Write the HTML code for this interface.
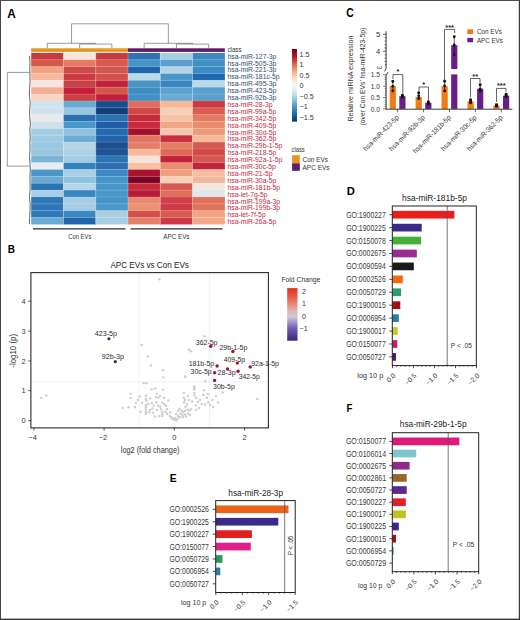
<!DOCTYPE html>
<html><head><meta charset="utf-8"><style>
html,body{margin:0;padding:0;background:#fff;width:520px;height:620px;overflow:hidden}
svg{display:block;color:#333}
text{font-family:"Liberation Sans",sans-serif}
</style></head><body>
<svg width="520" height="620" viewBox="0 0 520 620">
<rect width="520" height="620" fill="#fff"/>
<text x="7.20" y="17.90" font-size="12.5" fill="#000" color="#000" textLength="8.5" lengthAdjust="spacingAndGlyphs" font-weight="bold">A</text>
<text x="7.80" y="253.40" font-size="11.67" fill="#000" color="#000" textLength="7.2" lengthAdjust="spacingAndGlyphs" font-weight="bold">B</text>
<text x="346.30" y="17.30" font-size="11.94" fill="#000" color="#000" textLength="7.5" lengthAdjust="spacingAndGlyphs" font-weight="bold">C</text>
<text x="346.80" y="194.70" font-size="11.39" fill="#000" color="#000" textLength="8.1" lengthAdjust="spacingAndGlyphs" font-weight="bold">D</text>
<text x="169.80" y="481.60" font-size="11.39" fill="#000" color="#000" textLength="6.9" lengthAdjust="spacingAndGlyphs" font-weight="bold">E</text>
<text x="346.60" y="412.00" font-size="11.11" fill="#000" color="#000" textLength="5.9" lengthAdjust="spacingAndGlyphs" font-weight="bold">F</text>
<rect x="31.20" y="52.90" width="32.32" height="6.91" fill="#c83a3e"/>
<rect x="63.47" y="52.90" width="32.32" height="6.91" fill="#f6e3d9"/>
<rect x="95.74" y="52.90" width="32.32" height="6.91" fill="#c93a3c"/>
<rect x="128.01" y="52.90" width="32.32" height="6.91" fill="#2e72b5"/>
<rect x="160.28" y="52.90" width="32.32" height="6.91" fill="#a5cee3"/>
<rect x="192.55" y="52.90" width="32.32" height="6.91" fill="#3d88c0"/>
<rect x="31.20" y="59.76" width="32.32" height="6.91" fill="#d5574d"/>
<rect x="63.47" y="59.76" width="32.32" height="6.91" fill="#e47b65"/>
<rect x="95.74" y="59.76" width="32.32" height="6.91" fill="#d65a4e"/>
<rect x="128.01" y="59.76" width="32.32" height="6.91" fill="#4594c8"/>
<rect x="160.28" y="59.76" width="32.32" height="6.91" fill="#5a9fcd"/>
<rect x="192.55" y="59.76" width="32.32" height="6.91" fill="#4190c5"/>
<rect x="31.20" y="66.62" width="32.32" height="6.91" fill="#f1a283"/>
<rect x="63.47" y="66.62" width="32.32" height="6.91" fill="#d04848"/>
<rect x="95.74" y="66.62" width="32.32" height="6.91" fill="#d45650"/>
<rect x="128.01" y="66.62" width="32.32" height="6.91" fill="#1f65aa"/>
<rect x="160.28" y="66.62" width="32.32" height="6.91" fill="#b2d5e7"/>
<rect x="192.55" y="66.62" width="32.32" height="6.91" fill="#3d8bc2"/>
<rect x="31.20" y="73.48" width="32.32" height="6.91" fill="#f7b99d"/>
<rect x="63.47" y="73.48" width="32.32" height="6.91" fill="#cb3c42"/>
<rect x="95.74" y="73.48" width="32.32" height="6.91" fill="#d3504c"/>
<rect x="128.01" y="73.48" width="32.32" height="6.91" fill="#b9d8e8"/>
<rect x="160.28" y="73.48" width="32.32" height="6.91" fill="#4b96c9"/>
<rect x="192.55" y="73.48" width="32.32" height="6.91" fill="#1f69ad"/>
<rect x="31.20" y="80.34" width="32.32" height="6.91" fill="#f3e5df"/>
<rect x="63.47" y="80.34" width="32.32" height="6.91" fill="#c94143"/>
<rect x="95.74" y="80.34" width="32.32" height="6.91" fill="#c3213a"/>
<rect x="128.01" y="80.34" width="32.32" height="6.91" fill="#4593c7"/>
<rect x="160.28" y="80.34" width="32.32" height="6.91" fill="#3a85bf"/>
<rect x="192.55" y="80.34" width="32.32" height="6.91" fill="#b9d8e8"/>
<rect x="31.20" y="87.20" width="32.32" height="6.91" fill="#f5ae92"/>
<rect x="63.47" y="87.20" width="32.32" height="6.91" fill="#c41e3a"/>
<rect x="95.74" y="87.20" width="32.32" height="6.91" fill="#d5544c"/>
<rect x="128.01" y="87.20" width="32.32" height="6.91" fill="#3f8cc3"/>
<rect x="160.28" y="87.20" width="32.32" height="6.91" fill="#5ea2ce"/>
<rect x="192.55" y="87.20" width="32.32" height="6.91" fill="#5aa0cd"/>
<rect x="31.20" y="94.06" width="32.32" height="6.91" fill="#f8d4c4"/>
<rect x="63.47" y="94.06" width="32.32" height="6.91" fill="#cd3f42"/>
<rect x="95.74" y="94.06" width="32.32" height="6.91" fill="#c1203a"/>
<rect x="128.01" y="94.06" width="32.32" height="6.91" fill="#4291c6"/>
<rect x="160.28" y="94.06" width="32.32" height="6.91" fill="#6aaad2"/>
<rect x="192.55" y="94.06" width="32.32" height="6.91" fill="#5a9fcd"/>
<rect x="31.20" y="100.92" width="32.32" height="6.91" fill="#cfe3ee"/>
<rect x="63.47" y="100.92" width="32.32" height="6.91" fill="#6aa9d2"/>
<rect x="95.74" y="100.92" width="32.32" height="6.91" fill="#1a4f8e"/>
<rect x="128.01" y="100.92" width="32.32" height="6.91" fill="#e06e5a"/>
<rect x="160.28" y="100.92" width="32.32" height="6.91" fill="#f6b896"/>
<rect x="192.55" y="100.92" width="32.32" height="6.91" fill="#cb3a40"/>
<rect x="31.20" y="107.78" width="32.32" height="6.91" fill="#cde2ed"/>
<rect x="63.47" y="107.78" width="32.32" height="6.91" fill="#9ac6e0"/>
<rect x="95.74" y="107.78" width="32.32" height="6.91" fill="#123e7a"/>
<rect x="128.01" y="107.78" width="32.32" height="6.91" fill="#cf4746"/>
<rect x="160.28" y="107.78" width="32.32" height="6.91" fill="#f9cdb6"/>
<rect x="192.55" y="107.78" width="32.32" height="6.91" fill="#d95d50"/>
<rect x="31.20" y="114.64" width="32.32" height="6.91" fill="#e9e9ec"/>
<rect x="63.47" y="114.64" width="32.32" height="6.91" fill="#2a70b2"/>
<rect x="95.74" y="114.64" width="32.32" height="6.91" fill="#2a71b3"/>
<rect x="128.01" y="114.64" width="32.32" height="6.91" fill="#c72a3c"/>
<rect x="160.28" y="114.64" width="32.32" height="6.91" fill="#f7c2a6"/>
<rect x="192.55" y="114.64" width="32.32" height="6.91" fill="#e47a63"/>
<rect x="31.20" y="121.50" width="32.32" height="6.91" fill="#cde2ed"/>
<rect x="63.47" y="121.50" width="32.32" height="6.91" fill="#4898c9"/>
<rect x="95.74" y="121.50" width="32.32" height="6.91" fill="#1d5ea5"/>
<rect x="128.01" y="121.50" width="32.32" height="6.91" fill="#c72b3d"/>
<rect x="160.28" y="121.50" width="32.32" height="6.91" fill="#f2a786"/>
<rect x="192.55" y="121.50" width="32.32" height="6.91" fill="#ea8b6f"/>
<rect x="31.20" y="128.36" width="32.32" height="6.91" fill="#a4cde2"/>
<rect x="63.47" y="128.36" width="32.32" height="6.91" fill="#8fc2de"/>
<rect x="95.74" y="128.36" width="32.32" height="6.91" fill="#2369ad"/>
<rect x="128.01" y="128.36" width="32.32" height="6.91" fill="#a50f2c"/>
<rect x="160.28" y="128.36" width="32.32" height="6.91" fill="#f9c6ab"/>
<rect x="192.55" y="128.36" width="32.32" height="6.91" fill="#ee9a7b"/>
<rect x="31.20" y="135.22" width="32.32" height="6.91" fill="#9fcbe1"/>
<rect x="63.47" y="135.22" width="32.32" height="6.91" fill="#6cacd3"/>
<rect x="95.74" y="135.22" width="32.32" height="6.91" fill="#1f64a9"/>
<rect x="128.01" y="135.22" width="32.32" height="6.91" fill="#e17560"/>
<rect x="160.28" y="135.22" width="32.32" height="6.91" fill="#c9303f"/>
<rect x="192.55" y="135.22" width="32.32" height="6.91" fill="#f6b99a"/>
<rect x="31.20" y="142.08" width="32.32" height="6.91" fill="#9ac8e0"/>
<rect x="63.47" y="142.08" width="32.32" height="6.91" fill="#b3d5e7"/>
<rect x="95.74" y="142.08" width="32.32" height="6.91" fill="#1b4f8f"/>
<rect x="128.01" y="142.08" width="32.32" height="6.91" fill="#e57e67"/>
<rect x="160.28" y="142.08" width="32.32" height="6.91" fill="#e57e66"/>
<rect x="192.55" y="142.08" width="32.32" height="6.91" fill="#d45a50"/>
<rect x="31.20" y="148.94" width="32.32" height="6.91" fill="#9ac7e0"/>
<rect x="63.47" y="148.94" width="32.32" height="6.91" fill="#acd1e5"/>
<rect x="95.74" y="148.94" width="32.32" height="6.91" fill="#1d5496"/>
<rect x="128.01" y="148.94" width="32.32" height="6.91" fill="#f7b999"/>
<rect x="160.28" y="148.94" width="32.32" height="6.91" fill="#de6a57"/>
<rect x="192.55" y="148.94" width="32.32" height="6.91" fill="#d24a48"/>
<rect x="31.20" y="155.80" width="32.32" height="6.91" fill="#7ab5d7"/>
<rect x="63.47" y="155.80" width="32.32" height="6.91" fill="#a4cde3"/>
<rect x="95.74" y="155.80" width="32.32" height="6.91" fill="#2c74b4"/>
<rect x="128.01" y="155.80" width="32.32" height="6.91" fill="#f6e4dc"/>
<rect x="160.28" y="155.80" width="32.32" height="6.91" fill="#c4213a"/>
<rect x="192.55" y="155.80" width="32.32" height="6.91" fill="#d65650"/>
<rect x="31.20" y="162.66" width="32.32" height="6.91" fill="#e8ebef"/>
<rect x="63.47" y="162.66" width="32.32" height="6.91" fill="#3181bd"/>
<rect x="95.74" y="162.66" width="32.32" height="6.91" fill="#2b6fb2"/>
<rect x="128.01" y="162.66" width="32.32" height="6.91" fill="#f8c1a5"/>
<rect x="160.28" y="162.66" width="32.32" height="6.91" fill="#ea8d70"/>
<rect x="192.55" y="162.66" width="32.32" height="6.91" fill="#c4223b"/>
<rect x="31.20" y="169.52" width="32.32" height="6.91" fill="#4a96c8"/>
<rect x="63.47" y="169.52" width="32.32" height="6.91" fill="#a8cfe4"/>
<rect x="95.74" y="169.52" width="32.32" height="6.91" fill="#3f88c1"/>
<rect x="128.01" y="169.52" width="32.32" height="6.91" fill="#a8122e"/>
<rect x="160.28" y="169.52" width="32.32" height="6.91" fill="#f0a080"/>
<rect x="192.55" y="169.52" width="32.32" height="6.91" fill="#f7bea1"/>
<rect x="31.20" y="176.38" width="32.32" height="6.91" fill="#6aaad2"/>
<rect x="63.47" y="176.38" width="32.32" height="6.91" fill="#8fc2de"/>
<rect x="95.74" y="176.38" width="32.32" height="6.91" fill="#4594c8"/>
<rect x="128.01" y="176.38" width="32.32" height="6.91" fill="#7d0324"/>
<rect x="160.28" y="176.38" width="32.32" height="6.91" fill="#f8cfb9"/>
<rect x="192.55" y="176.38" width="32.32" height="6.91" fill="#f4b698"/>
<rect x="31.20" y="183.24" width="32.32" height="6.91" fill="#2b73b4"/>
<rect x="63.47" y="183.24" width="32.32" height="6.91" fill="#b3d6e8"/>
<rect x="95.74" y="183.24" width="32.32" height="6.91" fill="#4796c9"/>
<rect x="128.01" y="183.24" width="32.32" height="6.91" fill="#c72a3c"/>
<rect x="160.28" y="183.24" width="32.32" height="6.91" fill="#d65a4f"/>
<rect x="192.55" y="183.24" width="32.32" height="6.91" fill="#f3e6e0"/>
<rect x="31.20" y="190.10" width="32.32" height="6.91" fill="#a7cee3"/>
<rect x="63.47" y="190.10" width="32.32" height="6.91" fill="#3a86c0"/>
<rect x="95.74" y="190.10" width="32.32" height="6.91" fill="#4a98ca"/>
<rect x="128.01" y="190.10" width="32.32" height="6.91" fill="#b9193a"/>
<rect x="160.28" y="190.10" width="32.32" height="6.91" fill="#e0705c"/>
<rect x="192.55" y="190.10" width="32.32" height="6.91" fill="#dfe6ec"/>
<rect x="31.20" y="196.96" width="32.32" height="6.91" fill="#2e77b7"/>
<rect x="63.47" y="196.96" width="32.32" height="6.91" fill="#a6cde3"/>
<rect x="95.74" y="196.96" width="32.32" height="6.91" fill="#4595c8"/>
<rect x="128.01" y="196.96" width="32.32" height="6.91" fill="#e9896d"/>
<rect x="160.28" y="196.96" width="32.32" height="6.91" fill="#d0404a"/>
<rect x="192.55" y="196.96" width="32.32" height="6.91" fill="#e0705c"/>
<rect x="31.20" y="203.82" width="32.32" height="6.91" fill="#2e77b7"/>
<rect x="63.47" y="203.82" width="32.32" height="6.91" fill="#a6cde3"/>
<rect x="95.74" y="203.82" width="32.32" height="6.91" fill="#4a97c9"/>
<rect x="128.01" y="203.82" width="32.32" height="6.91" fill="#ec9272"/>
<rect x="160.28" y="203.82" width="32.32" height="6.91" fill="#cd3a44"/>
<rect x="192.55" y="203.82" width="32.32" height="6.91" fill="#e0735e"/>
<rect x="31.20" y="210.68" width="32.32" height="6.91" fill="#2f79b8"/>
<rect x="63.47" y="210.68" width="32.32" height="6.91" fill="#3c88c1"/>
<rect x="95.74" y="210.68" width="32.32" height="6.91" fill="#aacfe4"/>
<rect x="128.01" y="210.68" width="32.32" height="6.91" fill="#d34f4b"/>
<rect x="160.28" y="210.68" width="32.32" height="6.91" fill="#d85a52"/>
<rect x="192.55" y="210.68" width="32.32" height="6.91" fill="#f0a485"/>
<rect x="31.20" y="217.54" width="32.32" height="6.91" fill="#6aabd3"/>
<rect x="63.47" y="217.54" width="32.32" height="6.91" fill="#2166ac"/>
<rect x="95.74" y="217.54" width="32.32" height="6.91" fill="#a8cee4"/>
<rect x="128.01" y="217.54" width="32.32" height="6.91" fill="#e4806a"/>
<rect x="160.28" y="217.54" width="32.32" height="6.91" fill="#cc3843"/>
<rect x="192.55" y="217.54" width="32.32" height="6.91" fill="#f2a889"/>
<line x1="63.47" y1="52.90" x2="63.47" y2="224.40" stroke="rgba(255,255,255,0.45)" stroke-width="0.6"/>
<line x1="95.74" y1="52.90" x2="95.74" y2="224.40" stroke="rgba(255,255,255,0.45)" stroke-width="0.6"/>
<line x1="128.01" y1="52.90" x2="128.01" y2="224.40" stroke="rgba(255,255,255,0.45)" stroke-width="0.6"/>
<line x1="160.28" y1="52.90" x2="160.28" y2="224.40" stroke="rgba(255,255,255,0.45)" stroke-width="0.6"/>
<line x1="192.55" y1="52.90" x2="192.55" y2="224.40" stroke="rgba(255,255,255,0.45)" stroke-width="0.6"/>
<line x1="31.20" y1="59.76" x2="224.82" y2="59.76" stroke="rgba(255,255,255,0.25)" stroke-width="0.5"/>
<line x1="31.20" y1="66.62" x2="224.82" y2="66.62" stroke="rgba(255,255,255,0.25)" stroke-width="0.5"/>
<line x1="31.20" y1="73.48" x2="224.82" y2="73.48" stroke="rgba(255,255,255,0.25)" stroke-width="0.5"/>
<line x1="31.20" y1="80.34" x2="224.82" y2="80.34" stroke="rgba(255,255,255,0.25)" stroke-width="0.5"/>
<line x1="31.20" y1="87.20" x2="224.82" y2="87.20" stroke="rgba(255,255,255,0.25)" stroke-width="0.5"/>
<line x1="31.20" y1="94.06" x2="224.82" y2="94.06" stroke="rgba(255,255,255,0.25)" stroke-width="0.5"/>
<line x1="31.20" y1="100.92" x2="224.82" y2="100.92" stroke="rgba(255,255,255,0.25)" stroke-width="0.5"/>
<line x1="31.20" y1="107.78" x2="224.82" y2="107.78" stroke="rgba(255,255,255,0.25)" stroke-width="0.5"/>
<line x1="31.20" y1="114.64" x2="224.82" y2="114.64" stroke="rgba(255,255,255,0.25)" stroke-width="0.5"/>
<line x1="31.20" y1="121.50" x2="224.82" y2="121.50" stroke="rgba(255,255,255,0.25)" stroke-width="0.5"/>
<line x1="31.20" y1="128.36" x2="224.82" y2="128.36" stroke="rgba(255,255,255,0.25)" stroke-width="0.5"/>
<line x1="31.20" y1="135.22" x2="224.82" y2="135.22" stroke="rgba(255,255,255,0.25)" stroke-width="0.5"/>
<line x1="31.20" y1="142.08" x2="224.82" y2="142.08" stroke="rgba(255,255,255,0.25)" stroke-width="0.5"/>
<line x1="31.20" y1="148.94" x2="224.82" y2="148.94" stroke="rgba(255,255,255,0.25)" stroke-width="0.5"/>
<line x1="31.20" y1="155.80" x2="224.82" y2="155.80" stroke="rgba(255,255,255,0.25)" stroke-width="0.5"/>
<line x1="31.20" y1="162.66" x2="224.82" y2="162.66" stroke="rgba(255,255,255,0.25)" stroke-width="0.5"/>
<line x1="31.20" y1="169.52" x2="224.82" y2="169.52" stroke="rgba(255,255,255,0.25)" stroke-width="0.5"/>
<line x1="31.20" y1="176.38" x2="224.82" y2="176.38" stroke="rgba(255,255,255,0.25)" stroke-width="0.5"/>
<line x1="31.20" y1="183.24" x2="224.82" y2="183.24" stroke="rgba(255,255,255,0.25)" stroke-width="0.5"/>
<line x1="31.20" y1="190.10" x2="224.82" y2="190.10" stroke="rgba(255,255,255,0.25)" stroke-width="0.5"/>
<line x1="31.20" y1="196.96" x2="224.82" y2="196.96" stroke="rgba(255,255,255,0.25)" stroke-width="0.5"/>
<line x1="31.20" y1="203.82" x2="224.82" y2="203.82" stroke="rgba(255,255,255,0.25)" stroke-width="0.5"/>
<line x1="31.20" y1="210.68" x2="224.82" y2="210.68" stroke="rgba(255,255,255,0.25)" stroke-width="0.5"/>
<line x1="31.20" y1="217.54" x2="224.82" y2="217.54" stroke="rgba(255,255,255,0.25)" stroke-width="0.5"/>
<rect x="31.20" y="48.30" width="96.81" height="3.60" fill="#e8961a"/>
<rect x="128.01" y="48.30" width="96.81" height="3.60" fill="#5e1a6e"/>
<text x="227.40" y="52.20" font-size="7.2" fill="#333" color="#333" textLength="14.2" lengthAdjust="spacingAndGlyphs">class</text>
<text x="227.50" y="58.60" font-size="6.8" fill="#2f4d6e" color="#2f4d6e">hsa-miR-127-3p</text>
<text x="227.50" y="65.50" font-size="6.8" fill="#2f4d6e" color="#2f4d6e">hsa-miR-505-3p</text>
<text x="227.50" y="72.40" font-size="6.8" fill="#2f4d6e" color="#2f4d6e">hsa-miR-221-3p</text>
<text x="227.50" y="79.30" font-size="6.8" fill="#2f4d6e" color="#2f4d6e">hsa-miR-181c-5p</text>
<text x="227.50" y="86.20" font-size="6.8" fill="#2f4d6e" color="#2f4d6e">hsa-miR-495-3p</text>
<text x="227.50" y="93.10" font-size="6.8" fill="#2f4d6e" color="#2f4d6e">hsa-miR-423-5p</text>
<text x="227.50" y="100.00" font-size="6.8" fill="#2f4d6e" color="#2f4d6e">hsa-miR-92b-3p</text>
<text x="227.50" y="106.90" font-size="6.8" fill="#c0283e" color="#c0283e">hsa-miR-28-3p</text>
<text x="227.50" y="113.80" font-size="6.8" fill="#c0283e" color="#c0283e">hsa-miR-99a-5p</text>
<text x="227.50" y="120.70" font-size="6.8" fill="#c0283e" color="#c0283e">hsa-miR-342-5p</text>
<text x="227.50" y="127.60" font-size="6.8" fill="#c0283e" color="#c0283e">hsa-miR-409-5p</text>
<text x="227.50" y="134.50" font-size="6.8" fill="#c0283e" color="#c0283e">hsa-miR-30d-5p</text>
<text x="227.50" y="141.40" font-size="6.8" fill="#c0283e" color="#c0283e">hsa-miR-362-5p</text>
<text x="227.50" y="148.30" font-size="6.8" fill="#c0283e" color="#c0283e">hsa-miR-29b-1-5p</text>
<text x="227.50" y="155.20" font-size="6.8" fill="#c0283e" color="#c0283e">hsa-miR-218-5p</text>
<text x="227.50" y="162.10" font-size="6.8" fill="#c0283e" color="#c0283e">hsa-miR-92a-1-5p</text>
<text x="227.50" y="169.00" font-size="6.8" fill="#c0283e" color="#c0283e">hsa-miR-30c-5p</text>
<text x="227.50" y="175.90" font-size="6.8" fill="#c0283e" color="#c0283e">hsa-miR-21-5p</text>
<text x="227.50" y="182.80" font-size="6.8" fill="#c0283e" color="#c0283e">hsa-miR-30a-5p</text>
<text x="227.50" y="189.70" font-size="6.8" fill="#c0283e" color="#c0283e">hsa-miR-181b-5p</text>
<text x="227.50" y="196.60" font-size="6.8" fill="#c0283e" color="#c0283e">hsa-let-7g-5p</text>
<text x="227.50" y="203.50" font-size="6.8" fill="#c0283e" color="#c0283e">hsa-miR-199a-3p</text>
<text x="227.50" y="210.40" font-size="6.8" fill="#c0283e" color="#c0283e">hsa-miR-199b-3p</text>
<text x="227.50" y="217.30" font-size="6.8" fill="#c0283e" color="#c0283e">hsa-let-7f-5p</text>
<text x="227.50" y="224.20" font-size="6.8" fill="#c0283e" color="#c0283e">hsa-miR-26a-5p</text>
<polyline points="79.61,48.30 79.61,44.10 111.88,44.10 111.88,48.30" fill="none" stroke="#555" stroke-width="0.6"/>
<polyline points="47.34,48.30 47.34,43.30 95.74,43.30 95.74,44.10" fill="none" stroke="#555" stroke-width="0.6"/>
<polyline points="176.41,48.30 176.41,44.10 208.69,44.10 208.69,48.30" fill="none" stroke="#555" stroke-width="0.6"/>
<polyline points="144.15,48.30 144.15,43.30 192.55,43.30 192.55,44.10" fill="none" stroke="#555" stroke-width="0.6"/>
<polyline points="71.54,43.30 71.54,23.80 168.35,23.80 168.35,43.30" fill="none" stroke="#555" stroke-width="0.6"/>
<polyline points="29.70,72.40 7.30,72.40 7.30,166.10 29.70,166.10" fill="none" stroke="#555" stroke-width="0.6"/>
<polyline points="29.64,56.00 29.94,62.72 29.77,69.44 30.00,76.16 30.03,82.88 29.47,89.60 29.41,96.32 30.24,103.04 29.66,109.76 29.63,116.48 30.40,123.20 29.87,129.92 30.24,136.64 29.88,143.36 30.04,150.08 29.55,156.80 30.03,163.52 30.27,170.24 29.92,176.96 30.14,183.68 30.07,190.40 29.46,197.12 30.16,203.84 29.99,210.56 29.70,217.28 29.43,224.00" fill="none" stroke="#555" stroke-width="0.9"/>
<line x1="33.00" y1="228.90" x2="125.50" y2="228.90" stroke="#2a2a2a" stroke-width="1.1"/>
<line x1="130.50" y1="228.90" x2="222.50" y2="228.90" stroke="#2a2a2a" stroke-width="1.1"/>
<text x="68.30" y="239.04" font-size="7.6" fill="#333" color="#333" textLength="23.0" lengthAdjust="spacingAndGlyphs">Con EVs</text>
<text x="163.30" y="239.04" font-size="7.6" fill="#333" color="#333" textLength="26.2" lengthAdjust="spacingAndGlyphs">APC EVs</text>
<defs><linearGradient id="rdbu" x1="0" y1="1" x2="0" y2="0"><stop offset="0" stop-color="#053061"/><stop offset="0.1" stop-color="#2166ac"/><stop offset="0.2" stop-color="#4393c3"/><stop offset="0.3" stop-color="#92c5de"/><stop offset="0.4" stop-color="#d1e5f0"/><stop offset="0.5" stop-color="#f7f7f7"/><stop offset="0.6" stop-color="#fddbc7"/><stop offset="0.7" stop-color="#f4a582"/><stop offset="0.8" stop-color="#d6604d"/><stop offset="0.9" stop-color="#b2182b"/><stop offset="1" stop-color="#67001f"/></linearGradient><linearGradient id="fc" x1="0" y1="1" x2="0" y2="0"><stop offset="0" stop-color="#3b2585"/><stop offset="0.235" stop-color="#6f5cb5"/><stop offset="0.35" stop-color="#a396cf"/><stop offset="0.465" stop-color="#cfcbd4"/><stop offset="0.58" stop-color="#dfb0a8"/><stop offset="0.696" stop-color="#e58a77"/><stop offset="0.81" stop-color="#e8604a"/><stop offset="1" stop-color="#e62e1b"/></linearGradient></defs>
<rect x="292.00" y="49.00" width="5.00" height="72.60" fill="url(#rdbu)"/>
<text x="299.60" y="56.50" font-size="7.2" fill="#333" color="#333">1.5</text>
<text x="299.60" y="67.00" font-size="7.2" fill="#333" color="#333">1</text>
<text x="299.60" y="77.50" font-size="7.2" fill="#333" color="#333">0.5</text>
<text x="299.60" y="88.00" font-size="7.2" fill="#333" color="#333">0</text>
<text x="299.60" y="98.50" font-size="7.2" fill="#333" color="#333">−0.5</text>
<text x="299.60" y="109.00" font-size="7.2" fill="#333" color="#333">−1</text>
<text x="299.60" y="119.50" font-size="7.2" fill="#333" color="#333">−1.5</text>
<text x="291.50" y="152.00" font-size="7.2" fill="#333" color="#333" textLength="13.3" lengthAdjust="spacingAndGlyphs">class</text>
<rect x="292.10" y="155.20" width="7.70" height="8.10" fill="#e8961a"/>
<rect x="292.10" y="163.30" width="7.70" height="7.50" fill="#5e1a6e"/>
<text x="302.50" y="161.86" font-size="7.4" fill="#333" color="#333" textLength="25.4" lengthAdjust="spacingAndGlyphs">Con EVs</text>
<text x="302.50" y="169.96" font-size="7.4" fill="#333" color="#333" textLength="27.1" lengthAdjust="spacingAndGlyphs">APC EVs</text>
<line x1="139.20" y1="272.60" x2="139.20" y2="427.90" stroke="#ececec" stroke-width="0.7"/>
<line x1="209.40" y1="272.60" x2="209.40" y2="427.90" stroke="#ececec" stroke-width="0.7"/>
<line x1="30.90" y1="381.80" x2="268.40" y2="381.80" stroke="#ececec" stroke-width="0.7"/>
<text x="110.40" y="267.98" font-size="9.4" fill="#222" color="#222" textLength="78.5" lengthAdjust="spacingAndGlyphs">APC EVs vs Con EVs</text>
<circle cx="159.4" cy="279.3" r="1.25" fill="#cfcfcf"/>
<circle cx="204.5" cy="336.2" r="1.25" fill="#cfcfcf"/>
<circle cx="141.6" cy="345.0" r="1.25" fill="#cfcfcf"/>
<circle cx="147.8" cy="356.5" r="1.25" fill="#cfcfcf"/>
<circle cx="150.9" cy="365.4" r="1.25" fill="#cfcfcf"/>
<circle cx="189.0" cy="349.7" r="1.25" fill="#cfcfcf"/>
<circle cx="190.9" cy="351.2" r="1.25" fill="#cfcfcf"/>
<circle cx="162.9" cy="370.2" r="1.25" fill="#cfcfcf"/>
<circle cx="163.3" cy="377.4" r="1.25" fill="#cfcfcf"/>
<circle cx="185.1" cy="376.4" r="1.25" fill="#cfcfcf"/>
<circle cx="205.4" cy="381.2" r="1.25" fill="#cfcfcf"/>
<circle cx="143.5" cy="383.2" r="1.25" fill="#cfcfcf"/>
<circle cx="146.4" cy="383.2" r="1.25" fill="#cfcfcf"/>
<circle cx="193.8" cy="387.0" r="1.25" fill="#cfcfcf"/>
<circle cx="41.2" cy="398.0" r="1.25" fill="#cfcfcf"/>
<circle cx="46.4" cy="395.4" r="1.25" fill="#cfcfcf"/>
<circle cx="257.3" cy="399.1" r="1.25" fill="#cfcfcf"/>
<circle cx="151.7" cy="389.3" r="1.25" fill="#cfcfcf"/>
<circle cx="155.1" cy="388.5" r="1.25" fill="#cfcfcf"/>
<circle cx="162.9" cy="389.7" r="1.25" fill="#cfcfcf"/>
<circle cx="130.6" cy="393.8" r="1.25" fill="#cfcfcf"/>
<circle cx="130.6" cy="398.0" r="1.25" fill="#cfcfcf"/>
<circle cx="139.6" cy="396.4" r="1.25" fill="#cfcfcf"/>
<circle cx="145.9" cy="395.7" r="1.25" fill="#cfcfcf"/>
<circle cx="138.0" cy="399.9" r="1.25" fill="#cfcfcf"/>
<circle cx="145.9" cy="399.0" r="1.25" fill="#cfcfcf"/>
<circle cx="146.5" cy="400.5" r="1.25" fill="#cfcfcf"/>
<circle cx="150.2" cy="398.5" r="1.25" fill="#cfcfcf"/>
<circle cx="157.0" cy="393.8" r="1.25" fill="#cfcfcf"/>
<circle cx="156.0" cy="396.9" r="1.25" fill="#cfcfcf"/>
<circle cx="158.6" cy="397.5" r="1.25" fill="#cfcfcf"/>
<circle cx="168.1" cy="400.6" r="1.25" fill="#cfcfcf"/>
<circle cx="142.2" cy="402.8" r="1.25" fill="#cfcfcf"/>
<circle cx="151.7" cy="403.3" r="1.25" fill="#cfcfcf"/>
<circle cx="153.9" cy="405.4" r="1.25" fill="#cfcfcf"/>
<circle cx="156.5" cy="402.2" r="1.25" fill="#cfcfcf"/>
<circle cx="158.1" cy="405.4" r="1.25" fill="#cfcfcf"/>
<circle cx="160.2" cy="406.5" r="1.25" fill="#cfcfcf"/>
<circle cx="162.3" cy="402.8" r="1.25" fill="#cfcfcf"/>
<circle cx="164.4" cy="404.3" r="1.25" fill="#cfcfcf"/>
<circle cx="166.0" cy="405.9" r="1.25" fill="#cfcfcf"/>
<circle cx="122.6" cy="408.0" r="1.25" fill="#cfcfcf"/>
<circle cx="128.5" cy="407.3" r="1.25" fill="#cfcfcf"/>
<circle cx="134.8" cy="407.0" r="1.25" fill="#cfcfcf"/>
<circle cx="145.9" cy="405.0" r="1.25" fill="#cfcfcf"/>
<circle cx="145.9" cy="407.3" r="1.25" fill="#cfcfcf"/>
<circle cx="145.9" cy="409.6" r="1.25" fill="#cfcfcf"/>
<circle cx="145.9" cy="411.9" r="1.25" fill="#cfcfcf"/>
<circle cx="145.9" cy="413.9" r="1.25" fill="#cfcfcf"/>
<circle cx="140.6" cy="411.7" r="1.25" fill="#cfcfcf"/>
<circle cx="149.1" cy="412.3" r="1.25" fill="#cfcfcf"/>
<circle cx="152.3" cy="408.6" r="1.25" fill="#cfcfcf"/>
<circle cx="153.3" cy="412.8" r="1.25" fill="#cfcfcf"/>
<circle cx="154.9" cy="416.5" r="1.25" fill="#cfcfcf"/>
<circle cx="159.2" cy="416.0" r="1.25" fill="#cfcfcf"/>
<circle cx="162.3" cy="411.7" r="1.25" fill="#cfcfcf"/>
<circle cx="162.3" cy="414.0" r="1.25" fill="#cfcfcf"/>
<circle cx="162.3" cy="416.0" r="1.25" fill="#cfcfcf"/>
<circle cx="165.5" cy="411.7" r="1.25" fill="#cfcfcf"/>
<circle cx="167.1" cy="413.9" r="1.25" fill="#cfcfcf"/>
<circle cx="169.7" cy="416.0" r="1.25" fill="#cfcfcf"/>
<circle cx="171.9" cy="417.6" r="1.25" fill="#cfcfcf"/>
<circle cx="173.4" cy="419.2" r="1.25" fill="#cfcfcf"/>
<circle cx="170.3" cy="412.3" r="1.25" fill="#cfcfcf"/>
<circle cx="185.3" cy="376.9" r="1.25" fill="#cfcfcf"/>
<circle cx="194.3" cy="386.6" r="1.25" fill="#cfcfcf"/>
<circle cx="194.3" cy="388.2" r="1.25" fill="#cfcfcf"/>
<circle cx="194.3" cy="389.8" r="1.25" fill="#cfcfcf"/>
<circle cx="203.9" cy="390.3" r="1.25" fill="#cfcfcf"/>
<circle cx="208.1" cy="394.0" r="1.25" fill="#cfcfcf"/>
<circle cx="194.3" cy="393.0" r="1.25" fill="#cfcfcf"/>
<circle cx="194.3" cy="395.6" r="1.25" fill="#cfcfcf"/>
<circle cx="203.3" cy="395.1" r="1.25" fill="#cfcfcf"/>
<circle cx="183.8" cy="393.0" r="1.25" fill="#cfcfcf"/>
<circle cx="212.3" cy="399.9" r="1.25" fill="#cfcfcf"/>
<circle cx="218.1" cy="402.5" r="1.25" fill="#cfcfcf"/>
<circle cx="207.0" cy="397.8" r="1.25" fill="#cfcfcf"/>
<circle cx="183.8" cy="397.8" r="1.25" fill="#cfcfcf"/>
<circle cx="185.0" cy="400.0" r="1.25" fill="#cfcfcf"/>
<circle cx="184.0" cy="402.5" r="1.25" fill="#cfcfcf"/>
<circle cx="187.0" cy="404.5" r="1.25" fill="#cfcfcf"/>
<circle cx="185.5" cy="406.7" r="1.25" fill="#cfcfcf"/>
<circle cx="189.0" cy="399.9" r="1.25" fill="#cfcfcf"/>
<circle cx="192.2" cy="401.5" r="1.25" fill="#cfcfcf"/>
<circle cx="198.0" cy="402.0" r="1.25" fill="#cfcfcf"/>
<circle cx="195.9" cy="405.2" r="1.25" fill="#cfcfcf"/>
<circle cx="201.7" cy="404.1" r="1.25" fill="#cfcfcf"/>
<circle cx="204.9" cy="404.6" r="1.25" fill="#cfcfcf"/>
<circle cx="208.1" cy="402.5" r="1.25" fill="#cfcfcf"/>
<circle cx="179.5" cy="409.0" r="1.25" fill="#cfcfcf"/>
<circle cx="181.5" cy="410.5" r="1.25" fill="#cfcfcf"/>
<circle cx="183.0" cy="412.0" r="1.25" fill="#cfcfcf"/>
<circle cx="185.0" cy="411.0" r="1.25" fill="#cfcfcf"/>
<circle cx="187.5" cy="409.5" r="1.25" fill="#cfcfcf"/>
<circle cx="189.5" cy="410.5" r="1.25" fill="#cfcfcf"/>
<circle cx="191.2" cy="409.0" r="1.25" fill="#cfcfcf"/>
<circle cx="180.5" cy="413.5" r="1.25" fill="#cfcfcf"/>
<circle cx="182.5" cy="415.0" r="1.25" fill="#cfcfcf"/>
<circle cx="185.0" cy="414.5" r="1.25" fill="#cfcfcf"/>
<circle cx="188.0" cy="413.5" r="1.25" fill="#cfcfcf"/>
<circle cx="190.0" cy="415.0" r="1.25" fill="#cfcfcf"/>
<circle cx="178.0" cy="416.0" r="1.25" fill="#cfcfcf"/>
<circle cx="180.0" cy="417.3" r="1.25" fill="#cfcfcf"/>
<circle cx="183.0" cy="417.0" r="1.25" fill="#cfcfcf"/>
<circle cx="186.0" cy="416.5" r="1.25" fill="#cfcfcf"/>
<circle cx="171.0" cy="417.3" r="1.25" fill="#cfcfcf"/>
<circle cx="172.5" cy="418.8" r="1.25" fill="#cfcfcf"/>
<circle cx="174.5" cy="419.5" r="1.25" fill="#cfcfcf"/>
<circle cx="176.3" cy="420.5" r="1.25" fill="#cfcfcf"/>
<circle cx="175.0" cy="418.0" r="1.25" fill="#cfcfcf"/>
<circle cx="177.5" cy="419.0" r="1.25" fill="#cfcfcf"/>
<circle cx="222.9" cy="392.5" r="1.25" fill="#cfcfcf"/>
<circle cx="160.0" cy="396.0" r="1.25" fill="#cfcfcf"/>
<circle cx="164.0" cy="398.0" r="1.25" fill="#cfcfcf"/>
<circle cx="167.0" cy="409.0" r="1.25" fill="#cfcfcf"/>
<circle cx="176.0" cy="414.0" r="1.25" fill="#cfcfcf"/>
<circle cx="178.0" cy="411.0" r="1.25" fill="#cfcfcf"/>
<circle cx="161.0" cy="409.0" r="1.25" fill="#cfcfcf"/>
<circle cx="157.0" cy="410.0" r="1.25" fill="#cfcfcf"/>
<circle cx="150.0" cy="410.0" r="1.25" fill="#cfcfcf"/>
<circle cx="148.0" cy="404.0" r="1.25" fill="#cfcfcf"/>
<circle cx="136.0" cy="403.0" r="1.25" fill="#cfcfcf"/>
<circle cx="196.0" cy="398.0" r="1.25" fill="#cfcfcf"/>
<circle cx="200.0" cy="400.0" r="1.25" fill="#cfcfcf"/>
<circle cx="210.0" cy="405.0" r="1.25" fill="#cfcfcf"/>
<circle cx="213.0" cy="407.0" r="1.25" fill="#cfcfcf"/>
<circle cx="199.0" cy="408.0" r="1.25" fill="#cfcfcf"/>
<circle cx="196.0" cy="410.0" r="1.25" fill="#cfcfcf"/>
<circle cx="216.0" cy="396.0" r="1.25" fill="#cfcfcf"/>
<circle cx="188.0" cy="396.0" r="1.25" fill="#cfcfcf"/>
<circle cx="210.8" cy="346.3" r="1.7" fill="#a8102c"/>
<circle cx="232.9" cy="351.5" r="1.7" fill="#a8102c"/>
<circle cx="237.3" cy="363.1" r="1.7" fill="#a8102c"/>
<circle cx="250.2" cy="366.9" r="1.7" fill="#a8102c"/>
<circle cx="217.1" cy="366.0" r="1.7" fill="#a8102c"/>
<circle cx="227.5" cy="369.0" r="1.7" fill="#a8102c"/>
<circle cx="214.6" cy="372.7" r="1.7" fill="#a8102c"/>
<circle cx="238.1" cy="371.3" r="1.7" fill="#a8102c"/>
<circle cx="214.6" cy="380.4" r="1.7" fill="#a8102c"/>
<circle cx="108.9" cy="338.8" r="1.6" fill="#1f3a63"/>
<circle cx="115.3" cy="361.7" r="1.6" fill="#1f3a63"/>
<text x="195.80" y="345.24" font-size="7.6" fill="#2a2a2a" color="#2a2a2a" textLength="21.7" lengthAdjust="spacingAndGlyphs">362-5p</text>
<text x="219.40" y="349.64" font-size="7.6" fill="#2a2a2a" color="#2a2a2a" textLength="27.9" lengthAdjust="spacingAndGlyphs">29b-1-5p</text>
<text x="223.80" y="361.94" font-size="7.6" fill="#2a2a2a" color="#2a2a2a" textLength="21.2" lengthAdjust="spacingAndGlyphs">409-5p</text>
<text x="251.20" y="366.44" font-size="7.6" fill="#2a2a2a" color="#2a2a2a" textLength="27.8" lengthAdjust="spacingAndGlyphs">92a-1-5p</text>
<text x="188.70" y="366.44" font-size="7.6" fill="#2a2a2a" color="#2a2a2a" textLength="25.5" lengthAdjust="spacingAndGlyphs">181b-5p</text>
<text x="217.50" y="375.44" font-size="7.6" fill="#2a2a2a" color="#2a2a2a" textLength="18.3" lengthAdjust="spacingAndGlyphs">28-3p</text>
<text x="190.60" y="374.04" font-size="7.6" fill="#2a2a2a" color="#2a2a2a" textLength="21.1" lengthAdjust="spacingAndGlyphs">30c-5p</text>
<text x="238.70" y="378.94" font-size="7.6" fill="#2a2a2a" color="#2a2a2a" textLength="21.1" lengthAdjust="spacingAndGlyphs">342-5p</text>
<text x="213.00" y="389.44" font-size="7.6" fill="#2a2a2a" color="#2a2a2a" textLength="21.8" lengthAdjust="spacingAndGlyphs">30b-5p</text>
<text x="94.80" y="336.44" font-size="7.6" fill="#2a2a2a" color="#2a2a2a" textLength="22.2" lengthAdjust="spacingAndGlyphs">423-5p</text>
<text x="101.80" y="359.34" font-size="7.6" fill="#2a2a2a" color="#2a2a2a" textLength="22.3" lengthAdjust="spacingAndGlyphs">92b-3p</text>
<rect x="30.9" y="272.6" width="237.49999999999997" height="155.29999999999995" fill="none" stroke="#2a2a2a" stroke-width="1.1"/>
<line x1="28.30" y1="420.50" x2="30.90" y2="420.50" stroke="#2a2a2a" stroke-width="0.8"/>
<text x="25.50" y="423.10" font-size="7.4" fill="#333" color="#333" text-anchor="end">0</text>
<line x1="28.30" y1="390.70" x2="30.90" y2="390.70" stroke="#2a2a2a" stroke-width="0.8"/>
<text x="25.50" y="393.30" font-size="7.4" fill="#333" color="#333" text-anchor="end">1</text>
<line x1="28.30" y1="360.90" x2="30.90" y2="360.90" stroke="#2a2a2a" stroke-width="0.8"/>
<text x="25.50" y="363.50" font-size="7.4" fill="#333" color="#333" text-anchor="end">2</text>
<line x1="28.30" y1="331.10" x2="30.90" y2="331.10" stroke="#2a2a2a" stroke-width="0.8"/>
<text x="25.50" y="333.70" font-size="7.4" fill="#333" color="#333" text-anchor="end">3</text>
<line x1="28.30" y1="301.30" x2="30.90" y2="301.30" stroke="#2a2a2a" stroke-width="0.8"/>
<text x="25.50" y="303.90" font-size="7.4" fill="#333" color="#333" text-anchor="end">4</text>
<line x1="33.90" y1="427.90" x2="33.90" y2="430.60" stroke="#2a2a2a" stroke-width="0.8"/>
<text x="32.70" y="440.10" font-size="7.4" fill="#333" color="#333" text-anchor="middle">−4</text>
<line x1="104.10" y1="427.90" x2="104.10" y2="430.60" stroke="#2a2a2a" stroke-width="0.8"/>
<text x="102.90" y="440.10" font-size="7.4" fill="#333" color="#333" text-anchor="middle">−2</text>
<line x1="174.30" y1="427.90" x2="174.30" y2="430.60" stroke="#2a2a2a" stroke-width="0.8"/>
<text x="174.30" y="440.10" font-size="7.4" fill="#333" color="#333" text-anchor="middle">0</text>
<line x1="244.50" y1="427.90" x2="244.50" y2="430.60" stroke="#2a2a2a" stroke-width="0.8"/>
<text x="244.50" y="440.10" font-size="7.4" fill="#333" color="#333" text-anchor="middle">2</text>
<text x="120.80" y="453.24" font-size="9.0" fill="#333" color="#333" textLength="58.6" lengthAdjust="spacingAndGlyphs">log2 (fold change)</text>
<text x="0" y="0" font-size="8.6" fill="#333" textLength="33.7" lengthAdjust="spacingAndGlyphs" transform="translate(15.6 367.7) rotate(-90)">-log10 (p)</text>
<text x="281.40" y="282.22" font-size="7.0" fill="#333" color="#333" textLength="38.9" lengthAdjust="spacingAndGlyphs">Fold Change</text>
<rect x="287.20" y="288.10" width="10.30" height="52.60" fill="url(#fc)"/>
<text x="302.00" y="294.40" font-size="7.0" fill="#333" color="#333">2</text>
<text x="302.00" y="306.30" font-size="7.0" fill="#333" color="#333">1</text>
<text x="302.00" y="318.70" font-size="7.0" fill="#333" color="#333">0</text>
<text x="299.60" y="330.60" font-size="7.0" fill="#333" color="#333">−1</text>
<rect x="389.70" y="86.20" width="6.20" height="22.70" fill="#f07a14"/>
<rect x="399.30" y="96.19" width="6.20" height="12.71" fill="#6c1c8a"/>
<rect x="415.63" y="96.87" width="6.20" height="12.03" fill="#f07a14"/>
<rect x="425.23" y="102.77" width="6.20" height="6.13" fill="#6c1c8a"/>
<rect x="441.56" y="86.20" width="6.20" height="22.70" fill="#f07a14"/>
<rect x="467.49" y="101.41" width="6.20" height="7.49" fill="#f07a14"/>
<rect x="477.09" y="88.70" width="6.20" height="20.20" fill="#6c1c8a"/>
<rect x="493.42" y="105.50" width="6.20" height="3.41" fill="#f07a14"/>
<rect x="503.02" y="95.73" width="6.20" height="13.17" fill="#6c1c8a"/>
<rect x="451.16" y="74.40" width="6.20" height="34.50" fill="#6c1c8a"/>
<rect x="451.16" y="45.20" width="6.20" height="23.80" fill="#6c1c8a"/>
<line x1="392.80" y1="80.50" x2="392.80" y2="91.80" stroke="#111" stroke-width="0.7"/>
<line x1="391.50" y1="80.50" x2="394.10" y2="80.50" stroke="#111" stroke-width="0.7"/>
<circle cx="392.80" cy="81.50" r="1.4" fill="#111"/>
<circle cx="392.80" cy="86.20" r="1.4" fill="#111"/>
<circle cx="392.80" cy="90.80" r="1.4" fill="#111"/>
<line x1="402.40" y1="94.50" x2="402.40" y2="98.20" stroke="#111" stroke-width="0.7"/>
<line x1="401.10" y1="94.50" x2="403.70" y2="94.50" stroke="#111" stroke-width="0.7"/>
<circle cx="402.40" cy="95.50" r="1.4" fill="#111"/>
<circle cx="402.40" cy="96.50" r="1.4" fill="#111"/>
<circle cx="402.40" cy="97.20" r="1.4" fill="#111"/>
<line x1="418.73" y1="92.00" x2="418.73" y2="99.50" stroke="#111" stroke-width="0.7"/>
<line x1="417.43" y1="92.00" x2="420.03" y2="92.00" stroke="#111" stroke-width="0.7"/>
<circle cx="418.73" cy="93.00" r="1.4" fill="#111"/>
<circle cx="418.73" cy="95.80" r="1.4" fill="#111"/>
<circle cx="418.73" cy="98.50" r="1.4" fill="#111"/>
<line x1="428.33" y1="101.00" x2="428.33" y2="105.00" stroke="#111" stroke-width="0.7"/>
<line x1="427.03" y1="101.00" x2="429.63" y2="101.00" stroke="#111" stroke-width="0.7"/>
<circle cx="428.33" cy="102.00" r="1.4" fill="#111"/>
<circle cx="428.33" cy="103.00" r="1.4" fill="#111"/>
<circle cx="428.33" cy="104.00" r="1.4" fill="#111"/>
<line x1="444.66" y1="80.30" x2="444.66" y2="92.00" stroke="#111" stroke-width="0.7"/>
<line x1="443.36" y1="80.30" x2="445.96" y2="80.30" stroke="#111" stroke-width="0.7"/>
<circle cx="444.66" cy="81.30" r="1.4" fill="#111"/>
<circle cx="444.66" cy="86.00" r="1.4" fill="#111"/>
<circle cx="444.66" cy="91.00" r="1.4" fill="#111"/>
<line x1="454.26" y1="35.80" x2="454.26" y2="56.00" stroke="#111" stroke-width="0.7"/>
<line x1="452.96" y1="35.80" x2="455.56" y2="35.80" stroke="#111" stroke-width="0.7"/>
<circle cx="454.26" cy="36.80" r="1.4" fill="#111"/>
<circle cx="454.26" cy="45.00" r="1.4" fill="#111"/>
<circle cx="454.26" cy="55.00" r="1.4" fill="#111"/>
<line x1="470.59" y1="99.00" x2="470.59" y2="103.80" stroke="#111" stroke-width="0.7"/>
<line x1="469.29" y1="99.00" x2="471.89" y2="99.00" stroke="#111" stroke-width="0.7"/>
<circle cx="470.59" cy="100.00" r="1.4" fill="#111"/>
<circle cx="470.59" cy="101.50" r="1.4" fill="#111"/>
<circle cx="470.59" cy="102.80" r="1.4" fill="#111"/>
<line x1="480.19" y1="84.00" x2="480.19" y2="92.00" stroke="#111" stroke-width="0.7"/>
<line x1="478.89" y1="84.00" x2="481.49" y2="84.00" stroke="#111" stroke-width="0.7"/>
<circle cx="480.19" cy="85.00" r="1.4" fill="#111"/>
<circle cx="480.19" cy="88.80" r="1.4" fill="#111"/>
<circle cx="480.19" cy="91.00" r="1.4" fill="#111"/>
<line x1="496.52" y1="103.80" x2="496.52" y2="107.20" stroke="#111" stroke-width="0.7"/>
<line x1="495.22" y1="103.80" x2="497.82" y2="103.80" stroke="#111" stroke-width="0.7"/>
<circle cx="496.52" cy="104.80" r="1.4" fill="#111"/>
<circle cx="496.52" cy="105.50" r="1.4" fill="#111"/>
<circle cx="496.52" cy="106.20" r="1.4" fill="#111"/>
<line x1="506.12" y1="93.30" x2="506.12" y2="97.50" stroke="#111" stroke-width="0.7"/>
<line x1="504.82" y1="93.30" x2="507.42" y2="93.30" stroke="#111" stroke-width="0.7"/>
<circle cx="506.12" cy="94.30" r="1.4" fill="#111"/>
<circle cx="506.12" cy="95.50" r="1.4" fill="#111"/>
<circle cx="506.12" cy="96.50" r="1.4" fill="#111"/>
<polyline points="393.00,79.00 393.00,74.60 402.80,74.60 402.80,94.00" fill="none" stroke="#222" stroke-width="0.7"/>
<text x="397.90" y="74.30" font-size="7.4" fill="#222" color="#222" text-anchor="middle" font-weight="bold">*</text>
<polyline points="419.00,91.00 419.00,87.00 428.50,87.00 428.50,100.00" fill="none" stroke="#222" stroke-width="0.7"/>
<text x="423.75" y="86.50" font-size="7.4" fill="#222" color="#222" text-anchor="middle" font-weight="bold">*</text>
<polyline points="444.50,80.50 444.50,29.40 454.70,29.40 454.70,33.00" fill="none" stroke="#222" stroke-width="0.7"/>
<text x="449.60" y="29.50" font-size="7.4" fill="#222" color="#222" text-anchor="middle" font-weight="bold">***</text>
<polyline points="470.50,97.00 470.50,78.50 480.00,78.50 480.00,83.00" fill="none" stroke="#222" stroke-width="0.7"/>
<text x="475.25" y="79.00" font-size="7.4" fill="#222" color="#222" text-anchor="middle" font-weight="bold">**</text>
<polyline points="496.50,102.00 496.50,88.40 506.00,88.40 506.00,92.00" fill="none" stroke="#222" stroke-width="0.7"/>
<text x="501.25" y="88.00" font-size="7.4" fill="#222" color="#222" text-anchor="middle" font-weight="bold">***</text>
<line x1="386.10" y1="31.30" x2="386.10" y2="68.80" stroke="#222" stroke-width="0.9"/>
<polyline points="386.10,68.80 384.50,71.40" fill="none" stroke="#222" stroke-width="0.9"/>
<polyline points="388.10,72.20 386.10,75.40 386.10,109.30" fill="none" stroke="#222" stroke-width="0.9"/>
<line x1="385.70" y1="109.20" x2="512.40" y2="109.20" stroke="#222" stroke-width="0.9"/>
<line x1="384.70" y1="64.90" x2="386.10" y2="64.90" stroke="#222" stroke-width="0.7"/>
<line x1="384.70" y1="61.50" x2="386.10" y2="61.50" stroke="#222" stroke-width="0.7"/>
<line x1="384.70" y1="58.10" x2="386.10" y2="58.10" stroke="#222" stroke-width="0.7"/>
<line x1="384.70" y1="54.70" x2="386.10" y2="54.70" stroke="#222" stroke-width="0.7"/>
<line x1="382.90" y1="51.30" x2="386.10" y2="51.30" stroke="#222" stroke-width="0.7"/>
<line x1="384.70" y1="47.90" x2="386.10" y2="47.90" stroke="#222" stroke-width="0.7"/>
<line x1="384.70" y1="44.50" x2="386.10" y2="44.50" stroke="#222" stroke-width="0.7"/>
<line x1="384.70" y1="41.10" x2="386.10" y2="41.10" stroke="#222" stroke-width="0.7"/>
<line x1="384.70" y1="37.70" x2="386.10" y2="37.70" stroke="#222" stroke-width="0.7"/>
<line x1="382.90" y1="34.30" x2="386.10" y2="34.30" stroke="#222" stroke-width="0.7"/>
<line x1="383.10" y1="108.90" x2="386.10" y2="108.90" stroke="#222" stroke-width="0.6"/>
<line x1="384.80" y1="106.63" x2="386.10" y2="106.63" stroke="#222" stroke-width="0.6"/>
<line x1="384.80" y1="104.36" x2="386.10" y2="104.36" stroke="#222" stroke-width="0.6"/>
<line x1="384.80" y1="102.09" x2="386.10" y2="102.09" stroke="#222" stroke-width="0.6"/>
<line x1="384.80" y1="99.82" x2="386.10" y2="99.82" stroke="#222" stroke-width="0.6"/>
<line x1="383.10" y1="97.55" x2="386.10" y2="97.55" stroke="#222" stroke-width="0.6"/>
<line x1="384.80" y1="95.28" x2="386.10" y2="95.28" stroke="#222" stroke-width="0.6"/>
<line x1="384.80" y1="93.01" x2="386.10" y2="93.01" stroke="#222" stroke-width="0.6"/>
<line x1="384.80" y1="90.74" x2="386.10" y2="90.74" stroke="#222" stroke-width="0.6"/>
<line x1="384.80" y1="88.47" x2="386.10" y2="88.47" stroke="#222" stroke-width="0.6"/>
<line x1="383.10" y1="86.20" x2="386.10" y2="86.20" stroke="#222" stroke-width="0.6"/>
<line x1="384.80" y1="83.93" x2="386.10" y2="83.93" stroke="#222" stroke-width="0.6"/>
<line x1="384.80" y1="81.66" x2="386.10" y2="81.66" stroke="#222" stroke-width="0.6"/>
<line x1="384.80" y1="79.39" x2="386.10" y2="79.39" stroke="#222" stroke-width="0.6"/>
<line x1="384.80" y1="77.12" x2="386.10" y2="77.12" stroke="#222" stroke-width="0.6"/>
<line x1="383.10" y1="74.85" x2="386.10" y2="74.85" stroke="#222" stroke-width="0.6"/>
<text x="380.20" y="37.00" font-size="7.6" fill="#333" color="#333" text-anchor="end">5</text>
<text x="380.20" y="54.00" font-size="7.6" fill="#333" color="#333" text-anchor="end">4</text>
<text x="0" y="0" font-size="6.4" fill="#555" text-anchor="middle" transform="translate(376.6 67.6) rotate(90)">3</text>
<text x="380.00" y="77.45" font-size="7.4" fill="#333" color="#333" text-anchor="end" textLength="9.2" lengthAdjust="spacingAndGlyphs">1.5</text>
<text x="380.00" y="88.80" font-size="7.4" fill="#333" color="#333" text-anchor="end" textLength="9.2" lengthAdjust="spacingAndGlyphs">1.0</text>
<text x="380.00" y="100.15" font-size="7.4" fill="#333" color="#333" text-anchor="end" textLength="9.2" lengthAdjust="spacingAndGlyphs">0.5</text>
<text x="380.00" y="111.50" font-size="7.4" fill="#333" color="#333" text-anchor="end" textLength="9.2" lengthAdjust="spacingAndGlyphs">0.0</text>
<line x1="397.60" y1="109.20" x2="397.60" y2="112.20" stroke="#222" stroke-width="0.7"/>
<line x1="423.53" y1="109.20" x2="423.53" y2="112.20" stroke="#222" stroke-width="0.7"/>
<line x1="449.46" y1="109.20" x2="449.46" y2="112.20" stroke="#222" stroke-width="0.7"/>
<line x1="475.39" y1="109.20" x2="475.39" y2="112.20" stroke="#222" stroke-width="0.7"/>
<line x1="501.32" y1="109.20" x2="501.32" y2="112.20" stroke="#222" stroke-width="0.7"/>
<text x="399.40" y="118.00" font-size="7.0" fill="#333" text-anchor="end" textLength="47.3" lengthAdjust="spacingAndGlyphs" transform="rotate(-45 399.40 118.00)">hsa-miR-423-5p</text>
<text x="425.33" y="118.00" font-size="7.0" fill="#333" text-anchor="end" textLength="47.3" lengthAdjust="spacingAndGlyphs" transform="rotate(-45 425.33 118.00)">hsa-miR-92b-3p</text>
<text x="451.26" y="118.00" font-size="7.0" fill="#333" text-anchor="end" textLength="50.7" lengthAdjust="spacingAndGlyphs" transform="rotate(-45 451.26 118.00)">hsa-miR-181b-5p</text>
<text x="477.19" y="118.00" font-size="7.0" fill="#333" text-anchor="end" textLength="47.3" lengthAdjust="spacingAndGlyphs" transform="rotate(-45 477.19 118.00)">hsa-miR-30c-5p</text>
<text x="503.12" y="118.00" font-size="7.0" fill="#333" text-anchor="end" textLength="47.3" lengthAdjust="spacingAndGlyphs" transform="rotate(-45 503.12 118.00)">hsa-miR-362-5p</text>
<text x="0" y="0" font-size="8.0" fill="#333" textLength="86" lengthAdjust="spacingAndGlyphs" transform="translate(353.4 121.6) rotate(-90)">Relative miRNA expression</text>
<text x="0" y="0" font-size="8.0" fill="#333" textLength="97.8" lengthAdjust="spacingAndGlyphs" transform="translate(364.9 125.5) rotate(-90)">(over Con EVs’ hsa-miR-423-5p)</text>
<rect x="467.30" y="29.30" width="5.80" height="4.80" fill="#f07a14"/>
<rect x="467.30" y="37.90" width="5.80" height="4.40" fill="#6c1c8a"/>
<text x="476.90" y="34.39" font-size="7.2" fill="#333" color="#333" textLength="25.0" lengthAdjust="spacingAndGlyphs">Con EVs</text>
<text x="476.90" y="42.79" font-size="7.2" fill="#333" color="#333" textLength="26.0" lengthAdjust="spacingAndGlyphs">APC EVs</text>
<text x="402.10" y="200.70" font-size="8.6" fill="#222" color="#222" textLength="64.9" lengthAdjust="spacingAndGlyphs">hsa-miR-181b-5p</text>
<rect x="392.30" y="210.85" width="62.10" height="7.70" fill="#e8201c"/>
<line x1="389.30" y1="214.70" x2="392.30" y2="214.70" stroke="#222" stroke-width="0.8"/>
<text x="346.20" y="217.65" font-size="8.2" fill="#3a3a3a" color="#3a3a3a" textLength="39.6" lengthAdjust="spacingAndGlyphs">GO:1900227</text>
<rect x="392.30" y="223.78" width="29.40" height="7.70" fill="#3b2a8a"/>
<line x1="389.30" y1="227.63" x2="392.30" y2="227.63" stroke="#222" stroke-width="0.8"/>
<text x="346.20" y="230.58" font-size="8.2" fill="#3a3a3a" color="#3a3a3a" textLength="39.6" lengthAdjust="spacingAndGlyphs">GO:1900225</text>
<rect x="392.30" y="236.70" width="28.80" height="7.70" fill="#44b035"/>
<line x1="389.30" y1="240.55" x2="392.30" y2="240.55" stroke="#222" stroke-width="0.8"/>
<text x="346.20" y="243.51" font-size="8.2" fill="#3a3a3a" color="#3a3a3a" textLength="39.6" lengthAdjust="spacingAndGlyphs">GO:0150078</text>
<rect x="392.30" y="249.63" width="24.50" height="7.70" fill="#9b2a93"/>
<line x1="389.30" y1="253.48" x2="392.30" y2="253.48" stroke="#222" stroke-width="0.8"/>
<text x="346.20" y="256.43" font-size="8.2" fill="#3a3a3a" color="#3a3a3a" textLength="39.6" lengthAdjust="spacingAndGlyphs">GO:0002675</text>
<rect x="392.30" y="262.56" width="21.50" height="7.70" fill="#1a1a1a"/>
<line x1="389.30" y1="266.41" x2="392.30" y2="266.41" stroke="#222" stroke-width="0.8"/>
<text x="346.20" y="269.36" font-size="8.2" fill="#3a3a3a" color="#3a3a3a" textLength="39.6" lengthAdjust="spacingAndGlyphs">GO:0090594</text>
<rect x="392.30" y="275.49" width="10.50" height="7.70" fill="#f06a10"/>
<line x1="389.30" y1="279.34" x2="392.30" y2="279.34" stroke="#222" stroke-width="0.8"/>
<text x="346.20" y="282.29" font-size="8.2" fill="#3a3a3a" color="#3a3a3a" textLength="39.6" lengthAdjust="spacingAndGlyphs">GO:0002526</text>
<rect x="392.30" y="288.41" width="8.80" height="7.70" fill="#27a070"/>
<line x1="389.30" y1="292.26" x2="392.30" y2="292.26" stroke="#222" stroke-width="0.8"/>
<text x="346.20" y="295.22" font-size="8.2" fill="#3a3a3a" color="#3a3a3a" textLength="39.6" lengthAdjust="spacingAndGlyphs">GO:0050729</text>
<rect x="392.30" y="301.34" width="8.00" height="7.70" fill="#a01018"/>
<line x1="389.30" y1="305.19" x2="392.30" y2="305.19" stroke="#222" stroke-width="0.8"/>
<text x="346.20" y="308.14" font-size="8.2" fill="#3a3a3a" color="#3a3a3a" textLength="39.6" lengthAdjust="spacingAndGlyphs">GO:1900015</text>
<rect x="392.30" y="314.27" width="6.50" height="7.70" fill="#2a7fa0"/>
<line x1="389.30" y1="318.12" x2="392.30" y2="318.12" stroke="#222" stroke-width="0.8"/>
<text x="346.20" y="321.07" font-size="8.2" fill="#3a3a3a" color="#3a3a3a" textLength="39.6" lengthAdjust="spacingAndGlyphs">GO:0006954</text>
<rect x="392.30" y="327.20" width="5.40" height="7.70" fill="#c8c828"/>
<line x1="389.30" y1="331.05" x2="392.30" y2="331.05" stroke="#222" stroke-width="0.8"/>
<text x="346.20" y="334.00" font-size="8.2" fill="#3a3a3a" color="#3a3a3a" textLength="39.6" lengthAdjust="spacingAndGlyphs">GO:1900017</text>
<rect x="392.30" y="340.12" width="5.00" height="7.70" fill="#d0186a"/>
<line x1="389.30" y1="343.97" x2="392.30" y2="343.97" stroke="#222" stroke-width="0.8"/>
<text x="346.20" y="346.92" font-size="8.2" fill="#3a3a3a" color="#3a3a3a" textLength="39.6" lengthAdjust="spacingAndGlyphs">GO:0150077</text>
<rect x="392.30" y="353.05" width="3.70" height="7.70" fill="#4a2070"/>
<line x1="389.30" y1="356.90" x2="392.30" y2="356.90" stroke="#222" stroke-width="0.8"/>
<text x="346.20" y="359.85" font-size="8.2" fill="#3a3a3a" color="#3a3a3a" textLength="39.6" lengthAdjust="spacingAndGlyphs">GO:0050727</text>
<line x1="447.20" y1="206.00" x2="447.20" y2="365.60" stroke="#555" stroke-width="0.8"/>
<rect x="392.3" y="206" width="84.0" height="159.60000000000002" fill="none" stroke="#222" stroke-width="1.0"/>
<line x1="392.50" y1="365.60" x2="392.50" y2="368.20" stroke="#222" stroke-width="0.8"/>
<text x="395.90" y="376.00" font-size="6.8" fill="#333" text-anchor="end" transform="rotate(-45 395.90 376.00)">0.0</text>
<line x1="396.70" y1="365.60" x2="396.70" y2="366.90" stroke="#222" stroke-width="0.6"/>
<line x1="400.90" y1="365.60" x2="400.90" y2="366.90" stroke="#222" stroke-width="0.6"/>
<line x1="405.10" y1="365.60" x2="405.10" y2="366.90" stroke="#222" stroke-width="0.6"/>
<line x1="409.30" y1="365.60" x2="409.30" y2="366.90" stroke="#222" stroke-width="0.6"/>
<line x1="413.50" y1="365.60" x2="413.50" y2="368.20" stroke="#222" stroke-width="0.8"/>
<text x="416.90" y="376.00" font-size="6.8" fill="#333" text-anchor="end" transform="rotate(-45 416.90 376.00)">−0.5</text>
<line x1="417.70" y1="365.60" x2="417.70" y2="366.90" stroke="#222" stroke-width="0.6"/>
<line x1="421.90" y1="365.60" x2="421.90" y2="366.90" stroke="#222" stroke-width="0.6"/>
<line x1="426.10" y1="365.60" x2="426.10" y2="366.90" stroke="#222" stroke-width="0.6"/>
<line x1="430.30" y1="365.60" x2="430.30" y2="366.90" stroke="#222" stroke-width="0.6"/>
<line x1="434.50" y1="365.60" x2="434.50" y2="368.20" stroke="#222" stroke-width="0.8"/>
<text x="437.90" y="376.00" font-size="6.8" fill="#333" text-anchor="end" transform="rotate(-45 437.90 376.00)">−1.0</text>
<line x1="438.70" y1="365.60" x2="438.70" y2="366.90" stroke="#222" stroke-width="0.6"/>
<line x1="442.90" y1="365.60" x2="442.90" y2="366.90" stroke="#222" stroke-width="0.6"/>
<line x1="447.10" y1="365.60" x2="447.10" y2="366.90" stroke="#222" stroke-width="0.6"/>
<line x1="451.30" y1="365.60" x2="451.30" y2="366.90" stroke="#222" stroke-width="0.6"/>
<line x1="455.50" y1="365.60" x2="455.50" y2="368.20" stroke="#222" stroke-width="0.8"/>
<text x="458.90" y="376.00" font-size="6.8" fill="#333" text-anchor="end" transform="rotate(-45 458.90 376.00)">−1.5</text>
<line x1="459.70" y1="365.60" x2="459.70" y2="366.90" stroke="#222" stroke-width="0.6"/>
<line x1="463.90" y1="365.60" x2="463.90" y2="366.90" stroke="#222" stroke-width="0.6"/>
<line x1="468.10" y1="365.60" x2="468.10" y2="366.90" stroke="#222" stroke-width="0.6"/>
<line x1="472.30" y1="365.60" x2="472.30" y2="366.90" stroke="#222" stroke-width="0.6"/>
<line x1="476.50" y1="365.60" x2="476.50" y2="368.20" stroke="#222" stroke-width="0.8"/>
<text x="479.90" y="376.00" font-size="6.8" fill="#333" text-anchor="end" transform="rotate(-45 479.90 376.00)">−2.0</text>
<text x="357.30" y="378.09" font-size="7.2" fill="#333" color="#333" textLength="25.9" lengthAdjust="spacingAndGlyphs">log 10 p</text>
<text x="450.80" y="348.32" font-size="7.0" fill="#333" color="#333" textLength="21.1" lengthAdjust="spacingAndGlyphs">P &lt; .05</text>
<text x="399.80" y="426.80" font-size="8.6" fill="#222" color="#222" textLength="66.7" lengthAdjust="spacingAndGlyphs">hsa-miR-29b-1-5p</text>
<rect x="392.30" y="437.55" width="67.10" height="7.70" fill="#e0187a"/>
<line x1="389.30" y1="441.40" x2="392.30" y2="441.40" stroke="#222" stroke-width="0.8"/>
<text x="345.90" y="444.35" font-size="8.2" fill="#3a3a3a" color="#3a3a3a" textLength="40.2" lengthAdjust="spacingAndGlyphs">GO:0150077</text>
<rect x="392.30" y="449.71" width="23.90" height="7.70" fill="#7fc5d0"/>
<line x1="389.30" y1="453.56" x2="392.30" y2="453.56" stroke="#222" stroke-width="0.8"/>
<text x="345.90" y="456.51" font-size="8.2" fill="#3a3a3a" color="#3a3a3a" textLength="40.2" lengthAdjust="spacingAndGlyphs">GO:0106014</text>
<rect x="392.30" y="461.87" width="17.30" height="7.70" fill="#8e2a8e"/>
<line x1="389.30" y1="465.72" x2="392.30" y2="465.72" stroke="#222" stroke-width="0.8"/>
<text x="345.90" y="468.67" font-size="8.2" fill="#3a3a3a" color="#3a3a3a" textLength="40.2" lengthAdjust="spacingAndGlyphs">GO:0002675</text>
<rect x="392.30" y="474.03" width="14.40" height="7.70" fill="#9a6428"/>
<line x1="389.30" y1="477.88" x2="392.30" y2="477.88" stroke="#222" stroke-width="0.8"/>
<text x="345.90" y="480.83" font-size="8.2" fill="#3a3a3a" color="#3a3a3a" textLength="40.2" lengthAdjust="spacingAndGlyphs">GO:0002861</text>
<rect x="392.30" y="486.19" width="14.40" height="7.70" fill="#5a2a90"/>
<line x1="389.30" y1="490.04" x2="392.30" y2="490.04" stroke="#222" stroke-width="0.8"/>
<text x="345.90" y="492.99" font-size="8.2" fill="#3a3a3a" color="#3a3a3a" textLength="40.2" lengthAdjust="spacingAndGlyphs">GO:0050727</text>
<rect x="392.30" y="498.35" width="13.50" height="7.70" fill="#e02020"/>
<line x1="389.30" y1="502.20" x2="392.30" y2="502.20" stroke="#222" stroke-width="0.8"/>
<text x="345.90" y="505.15" font-size="8.2" fill="#3a3a3a" color="#3a3a3a" textLength="40.2" lengthAdjust="spacingAndGlyphs">GO:1900227</text>
<rect x="392.30" y="510.51" width="13.50" height="7.70" fill="#c0c020"/>
<line x1="389.30" y1="514.36" x2="392.30" y2="514.36" stroke="#222" stroke-width="0.8"/>
<text x="345.90" y="517.31" font-size="8.2" fill="#3a3a3a" color="#3a3a3a" textLength="40.2" lengthAdjust="spacingAndGlyphs">GO:1900017</text>
<rect x="392.30" y="522.67" width="6.50" height="7.70" fill="#3a2890"/>
<line x1="389.30" y1="526.52" x2="392.30" y2="526.52" stroke="#222" stroke-width="0.8"/>
<text x="345.90" y="529.47" font-size="8.2" fill="#3a3a3a" color="#3a3a3a" textLength="40.2" lengthAdjust="spacingAndGlyphs">GO:1900225</text>
<rect x="392.30" y="534.83" width="3.70" height="7.70" fill="#a01018"/>
<line x1="389.30" y1="538.68" x2="392.30" y2="538.68" stroke="#222" stroke-width="0.8"/>
<text x="345.90" y="541.63" font-size="8.2" fill="#3a3a3a" color="#3a3a3a" textLength="40.2" lengthAdjust="spacingAndGlyphs">GO:1900015</text>
<rect x="392.30" y="546.99" width="1.20" height="7.70" fill="#2a7fa0"/>
<line x1="389.30" y1="550.84" x2="392.30" y2="550.84" stroke="#222" stroke-width="0.8"/>
<text x="345.90" y="553.79" font-size="8.2" fill="#3a3a3a" color="#3a3a3a" textLength="40.2" lengthAdjust="spacingAndGlyphs">GO:0006954</text>
<line x1="389.30" y1="563.00" x2="392.30" y2="563.00" stroke="#222" stroke-width="0.8"/>
<text x="345.90" y="565.95" font-size="8.2" fill="#3a3a3a" color="#3a3a3a" textLength="40.2" lengthAdjust="spacingAndGlyphs">GO:0050729</text>
<line x1="448.20" y1="432.70" x2="448.20" y2="571.70" stroke="#555" stroke-width="0.8"/>
<rect x="392.3" y="432.7" width="86.39999999999998" height="139.00000000000006" fill="none" stroke="#222" stroke-width="1.0"/>
<line x1="392.30" y1="571.70" x2="392.30" y2="574.30" stroke="#222" stroke-width="0.8"/>
<text x="395.70" y="582.10" font-size="6.8" fill="#333" text-anchor="end" transform="rotate(-45 395.70 582.10)">0.0</text>
<line x1="396.62" y1="571.70" x2="396.62" y2="573.00" stroke="#222" stroke-width="0.6"/>
<line x1="400.94" y1="571.70" x2="400.94" y2="573.00" stroke="#222" stroke-width="0.6"/>
<line x1="405.26" y1="571.70" x2="405.26" y2="573.00" stroke="#222" stroke-width="0.6"/>
<line x1="409.58" y1="571.70" x2="409.58" y2="573.00" stroke="#222" stroke-width="0.6"/>
<line x1="413.90" y1="571.70" x2="413.90" y2="574.30" stroke="#222" stroke-width="0.8"/>
<text x="417.30" y="582.10" font-size="6.8" fill="#333" text-anchor="end" transform="rotate(-45 417.30 582.10)">−0.5</text>
<line x1="418.22" y1="571.70" x2="418.22" y2="573.00" stroke="#222" stroke-width="0.6"/>
<line x1="422.54" y1="571.70" x2="422.54" y2="573.00" stroke="#222" stroke-width="0.6"/>
<line x1="426.86" y1="571.70" x2="426.86" y2="573.00" stroke="#222" stroke-width="0.6"/>
<line x1="431.18" y1="571.70" x2="431.18" y2="573.00" stroke="#222" stroke-width="0.6"/>
<line x1="435.50" y1="571.70" x2="435.50" y2="574.30" stroke="#222" stroke-width="0.8"/>
<text x="438.90" y="582.10" font-size="6.8" fill="#333" text-anchor="end" transform="rotate(-45 438.90 582.10)">−1.0</text>
<line x1="439.82" y1="571.70" x2="439.82" y2="573.00" stroke="#222" stroke-width="0.6"/>
<line x1="444.14" y1="571.70" x2="444.14" y2="573.00" stroke="#222" stroke-width="0.6"/>
<line x1="448.46" y1="571.70" x2="448.46" y2="573.00" stroke="#222" stroke-width="0.6"/>
<line x1="452.78" y1="571.70" x2="452.78" y2="573.00" stroke="#222" stroke-width="0.6"/>
<line x1="457.10" y1="571.70" x2="457.10" y2="574.30" stroke="#222" stroke-width="0.8"/>
<text x="460.50" y="582.10" font-size="6.8" fill="#333" text-anchor="end" transform="rotate(-45 460.50 582.10)">−1.5</text>
<line x1="461.42" y1="571.70" x2="461.42" y2="573.00" stroke="#222" stroke-width="0.6"/>
<line x1="465.74" y1="571.70" x2="465.74" y2="573.00" stroke="#222" stroke-width="0.6"/>
<line x1="470.06" y1="571.70" x2="470.06" y2="573.00" stroke="#222" stroke-width="0.6"/>
<line x1="474.38" y1="571.70" x2="474.38" y2="573.00" stroke="#222" stroke-width="0.6"/>
<line x1="478.70" y1="571.70" x2="478.70" y2="574.30" stroke="#222" stroke-width="0.8"/>
<text x="482.10" y="582.10" font-size="6.8" fill="#333" text-anchor="end" transform="rotate(-45 482.10 582.10)">−2.0</text>
<text x="358.00" y="587.99" font-size="7.2" fill="#333" color="#333" textLength="24.2" lengthAdjust="spacingAndGlyphs">log 10 p</text>
<text x="452.70" y="546.92" font-size="7.0" fill="#333" color="#333" textLength="21.7" lengthAdjust="spacingAndGlyphs">P &lt; .05</text>
<text x="228.30" y="496.20" font-size="8.6" fill="#222" color="#222" textLength="54.8" lengthAdjust="spacingAndGlyphs">hsa-miR-28-3p</text>
<rect x="215.70" y="505.45" width="72.80" height="7.70" fill="#e8641a"/>
<line x1="212.70" y1="509.30" x2="215.70" y2="509.30" stroke="#222" stroke-width="0.8"/>
<text x="169.50" y="512.25" font-size="8.2" fill="#3a3a3a" color="#3a3a3a" textLength="39.4" lengthAdjust="spacingAndGlyphs">GO:0002526</text>
<rect x="215.70" y="517.87" width="62.60" height="7.70" fill="#3b2a8a"/>
<line x1="212.70" y1="521.72" x2="215.70" y2="521.72" stroke="#222" stroke-width="0.8"/>
<text x="169.50" y="524.67" font-size="8.2" fill="#3a3a3a" color="#3a3a3a" textLength="39.4" lengthAdjust="spacingAndGlyphs">GO:1900225</text>
<rect x="215.70" y="530.28" width="36.20" height="7.70" fill="#e02020"/>
<line x1="212.70" y1="534.13" x2="215.70" y2="534.13" stroke="#222" stroke-width="0.8"/>
<text x="169.50" y="537.09" font-size="8.2" fill="#3a3a3a" color="#3a3a3a" textLength="39.4" lengthAdjust="spacingAndGlyphs">GO:1900227</text>
<rect x="215.70" y="542.70" width="35.10" height="7.70" fill="#e0208a"/>
<line x1="212.70" y1="546.55" x2="215.70" y2="546.55" stroke="#222" stroke-width="0.8"/>
<text x="169.50" y="549.50" font-size="8.2" fill="#3a3a3a" color="#3a3a3a" textLength="39.4" lengthAdjust="spacingAndGlyphs">GO:0150077</text>
<rect x="215.70" y="555.12" width="6.80" height="7.70" fill="#2a9a60"/>
<line x1="212.70" y1="558.97" x2="215.70" y2="558.97" stroke="#222" stroke-width="0.8"/>
<text x="169.50" y="561.92" font-size="8.2" fill="#3a3a3a" color="#3a3a3a" textLength="39.4" lengthAdjust="spacingAndGlyphs">GO:0050729</text>
<rect x="215.70" y="567.53" width="4.60" height="7.70" fill="#2a80a0"/>
<line x1="212.70" y1="571.38" x2="215.70" y2="571.38" stroke="#222" stroke-width="0.8"/>
<text x="169.50" y="574.34" font-size="8.2" fill="#3a3a3a" color="#3a3a3a" textLength="39.4" lengthAdjust="spacingAndGlyphs">GO:0006954</text>
<line x1="212.70" y1="583.80" x2="215.70" y2="583.80" stroke="#222" stroke-width="0.8"/>
<text x="169.50" y="586.75" font-size="8.2" fill="#3a3a3a" color="#3a3a3a" textLength="39.4" lengthAdjust="spacingAndGlyphs">GO:0050727</text>
<line x1="284.70" y1="500.60" x2="284.70" y2="592.50" stroke="#555" stroke-width="0.8"/>
<rect x="215.7" y="500.6" width="79.5" height="91.89999999999998" fill="none" stroke="#222" stroke-width="1.0"/>
<line x1="215.80" y1="592.50" x2="215.80" y2="595.10" stroke="#222" stroke-width="0.8"/>
<text x="219.20" y="602.90" font-size="6.8" fill="#333" text-anchor="end" transform="rotate(-45 219.20 602.90)">0.0</text>
<line x1="221.09" y1="592.50" x2="221.09" y2="593.80" stroke="#222" stroke-width="0.6"/>
<line x1="226.38" y1="592.50" x2="226.38" y2="593.80" stroke="#222" stroke-width="0.6"/>
<line x1="231.67" y1="592.50" x2="231.67" y2="593.80" stroke="#222" stroke-width="0.6"/>
<line x1="236.96" y1="592.50" x2="236.96" y2="593.80" stroke="#222" stroke-width="0.6"/>
<line x1="242.25" y1="592.50" x2="242.25" y2="595.10" stroke="#222" stroke-width="0.8"/>
<text x="245.65" y="602.90" font-size="6.8" fill="#333" text-anchor="end" transform="rotate(-45 245.65 602.90)">−0.5</text>
<line x1="247.54" y1="592.50" x2="247.54" y2="593.80" stroke="#222" stroke-width="0.6"/>
<line x1="252.83" y1="592.50" x2="252.83" y2="593.80" stroke="#222" stroke-width="0.6"/>
<line x1="258.12" y1="592.50" x2="258.12" y2="593.80" stroke="#222" stroke-width="0.6"/>
<line x1="263.41" y1="592.50" x2="263.41" y2="593.80" stroke="#222" stroke-width="0.6"/>
<line x1="268.70" y1="592.50" x2="268.70" y2="595.10" stroke="#222" stroke-width="0.8"/>
<text x="272.10" y="602.90" font-size="6.8" fill="#333" text-anchor="end" transform="rotate(-45 272.10 602.90)">−1.0</text>
<line x1="273.99" y1="592.50" x2="273.99" y2="593.80" stroke="#222" stroke-width="0.6"/>
<line x1="279.28" y1="592.50" x2="279.28" y2="593.80" stroke="#222" stroke-width="0.6"/>
<line x1="284.57" y1="592.50" x2="284.57" y2="593.80" stroke="#222" stroke-width="0.6"/>
<line x1="289.86" y1="592.50" x2="289.86" y2="593.80" stroke="#222" stroke-width="0.6"/>
<line x1="295.15" y1="592.50" x2="295.15" y2="595.10" stroke="#222" stroke-width="0.8"/>
<text x="298.55" y="602.90" font-size="6.8" fill="#333" text-anchor="end" transform="rotate(-45 298.55 602.90)">−1.5</text>
<text x="181.00" y="605.09" font-size="7.2" fill="#333" color="#333" textLength="25.3" lengthAdjust="spacingAndGlyphs">log 10 p</text>
<text x="0" y="0" font-size="7.0" fill="#333" textLength="19.2" lengthAdjust="spacingAndGlyphs" transform="translate(293.30 555.00) rotate(-90)">P &lt; .05</text>
<rect x="0.00" y="0.00" width="520.00" height="0.90" fill="#3a3a3a"/>
<rect x="0.00" y="0.00" width="1.00" height="620.00" fill="#444"/>
<rect x="518.80" y="0.00" width="1.20" height="620.00" fill="#3a3a3a"/>
<rect x="0.00" y="618.60" width="520.00" height="1.40" fill="#3a3a3a"/>
</svg>
</body></html>
